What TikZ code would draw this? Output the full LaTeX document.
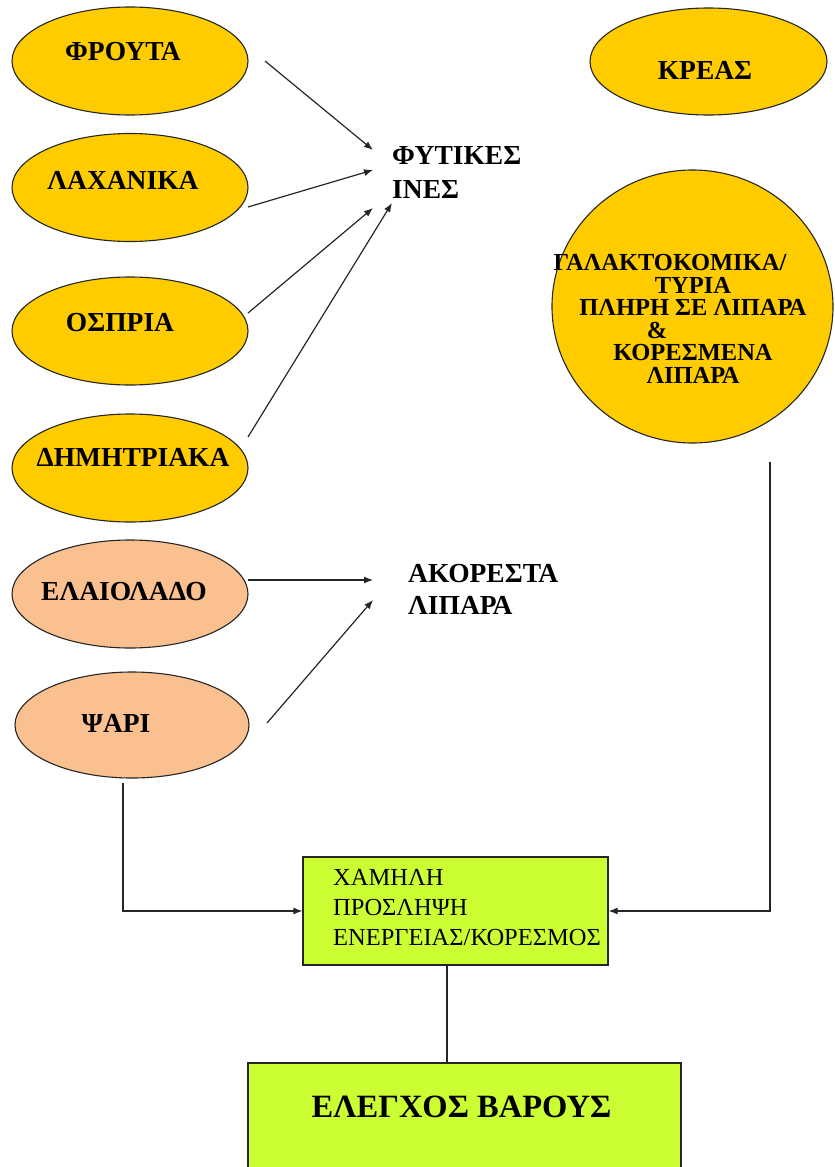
\documentclass[tikz,border=0pt]{standalone}
\usepackage{fontspec}
\setmainfont{Liberation Serif}
\usetikzlibrary{shapes.geometric,arrows.meta}
\definecolor{yel}{RGB}{255,204,0}
\definecolor{peach}{RGB}{250,192,144}
\definecolor{limeg}{RGB}{204,255,51}
\begin{document}
\begin{tikzpicture}[x=1pt,y=-1pt,
  oval/.style={ellipse, draw=black!85, line width=1.1pt, inner sep=0pt, minimum width=236pt, minimum height=108pt},
  yeloval/.style={oval, fill=yel},
  peachoval/.style={oval, fill=peach},
  lbl/.style={font=\fontsize{27.5}{30}\selectfont\bfseries, inner sep=0pt},
  conn/.style={line width=1.2pt, draw=black!85},
  arr/.style={conn, -{Latex[length=9pt,width=7pt]}},
  greenbox/.style={rectangle, draw=black!85, fill=limeg, line width=1.2pt, inner sep=0pt}]
\useasboundingbox (0,0) rectangle (835,1167);
\fill[white] (0,0) rectangle (835,1167);
\clip (0,0) rectangle (835,1167);

% left column
\node[yeloval] (fr) at (130,61) {};
\node[lbl] (frt) at (123,52) {ΦΡΟΥΤΑ};
\node[yeloval] (lax) at (130,187.5) {};
\node[lbl] (laxt) at (123,180) {ΛΑΧΑΝΙΚΑ};
\node[yeloval] (osp) at (130,331) {};
\node[lbl] (ospt) at (120,323) {ΟΣΠΡΙΑ};
\node[yeloval] (dim) at (130,468) {};
\node[lbl] (dimt) at (133,457) {ΔΗΜΗΤΡΙΑΚΑ};
\node[peachoval] (ela) at (130,594) {};
\node[lbl] (elat) at (124,592) {ΕΛΑΙΟΛΑΔΟ};
\node[peachoval, minimum width=234pt, minimum height=106pt] (psa) at (132,725) {};
\node[lbl] (psat) at (116,723) {ΨΑΡΙ};

% right column
\node[yeloval, minimum width=237pt, minimum height=107pt] (kre) at (708.5,61.5) {};
\node[lbl] (kret) at (705,70) {ΚΡΕΑΣ};
\node[yeloval, minimum width=281pt, minimum height=273pt] (gal) at (692.5,306.5) {};
\node[font=\fontsize{24.5}{22.5}\selectfont\bfseries, align=center, inner sep=0pt] (galt) at (693,319)
  {ΓΑΛΑΚΤΟΚΟΜΙΚΑ/\kern46pt\\ΤΥΡΙΑ\\ΠΛΗΡΗ ΣΕ ΛΙΠΑΡΑ\\\&\kern72pt\\ΚΟΡΕΣΜΕΝΑ\\ΛΙΠΑΡΑ};

% middle labels
\node[lbl, font=\fontsize{27.5}{34}\selectfont\bfseries, align=left, anchor=west] (fyt) at (392,172) {ΦΥΤΙΚΕΣ\\ΙΝΕΣ};
\node[lbl, font=\fontsize{27.5}{32}\selectfont\bfseries, align=left, anchor=west] (ako) at (408,589) {ΑΚΟΡΕΣΤΑ\\ΛΙΠΑΡΑ};

% arrows to fibres
\coordinate (f1) at (373,150);
\coordinate (f2) at (373,170);
\coordinate (f3) at (373,208);
\coordinate (f4) at (392,203);
\draw[arr] ([shift={(135,0)}]fr.center) -- (f1);
\draw[arr] ([shift={(118,19.5)}]lax.center) -- (f2);
\draw[arr] ([shift={(118,-18)}]osp.center) -- (f3);
\draw[arr] ([shift={(118,-31)}]dim.center) -- (f4);

% arrows to unsaturated fats
\coordinate (a1) at (373,580);
\coordinate (a2) at (373,600);
\draw[arr] ([shift={(118,-14)}]ela.center) -- (a1);
\draw[arr] ([shift={(135,-2)}]psa.center) -- (a2);

% bottom boxes
\node[greenbox, minimum width=305pt, minimum height=108pt] (low) at (455.5,911) {};
\node[font=\fontsize{24.5}{30}\selectfont, align=left, anchor=west, inner sep=0pt] (lowt) at (333,907.5)
  {ΧΑΜΗΛΗ\\ΠΡΟΣΛΗΨΗ\\ΕΝΕΡΓΕΙΑΣ/ΚΟΡΕΣΜΟΣ};
\node[greenbox, minimum width=433pt, minimum height=140pt] (ctl) at (464.5,1133) {};
\node[font=\fontsize{32.5}{36}\selectfont\bfseries, inner sep=0pt] (ctlt) at (461.5,1107) {ΕΛΕΓΧΟΣ ΒΑΡΟΥΣ};

\draw[arr] ([shift={(-9,58)}]psa.center) |- (low.west);
\draw[arr] ([shift={(77.5,155.5)}]gal.center) |- (low.east);
\draw[conn] ([xshift=-8.5pt]low.south) -- ([xshift=-8.5pt]low.south |- ctl.north);
\end{tikzpicture}
\end{document}
